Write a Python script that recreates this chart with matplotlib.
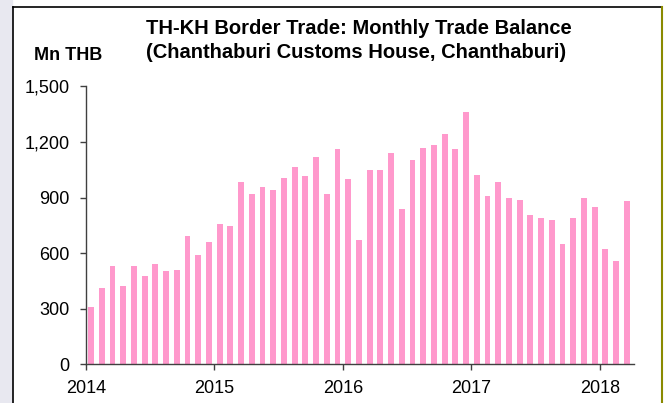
import matplotlib.pyplot as plt
from matplotlib.lines import Line2D
from matplotlib.patches import Rectangle

plt.rcParams["font.family"] = ["Liberation Sans", "DejaVu Sans"]

# monthly trade balance, Jan 2014 .. Mar 2018 (Mn THB)
balance_2014 = [311, 412, 529, 423, 529, 475, 541, 504, 511, 694, 588, 658]
balance_2015 = [757, 746, 986, 921, 957, 941, 1004, 1063, 1016, 1121, 921, 1162]
balance_2016 = [998, 669, 1050, 1050, 1139, 838, 1103, 1167, 1183, 1245, 1162, 1362]
balance_2017 = [1022, 908, 986, 897, 887, 804, 788, 781, 651, 788, 897, 851]
balance_2018 = [622, 558, 880]
years = ["2014", "2015", "2016", "2017", "2018"]

values = balance_2014 + balance_2015 + balance_2016 + balance_2017 + balance_2018
months = [i + 0.5 for i in range(len(values))]

fig = plt.figure(figsize=(6.69, 4.03), dpi=100)

# page backdrop + frame
fig.add_artist(Rectangle((0, 0), 12 / 669, 1, transform=fig.transFigure,
                         color="#e8e8f0", zorder=0))
fig.add_artist(Line2D([12.7 / 669, 12.7 / 669], [0, 1 - 7.3 / 403],
                      transform=fig.transFigure, color="black", lw=1.2))
fig.add_artist(Line2D([12.7 / 669, 662 / 669], [1 - 7.3 / 403, 1 - 7.3 / 403],
                      transform=fig.transFigure, color="black", lw=1.2))
fig.add_artist(Line2D([662 / 669, 662 / 669], [0, 1 - 7.3 / 403],
                      transform=fig.transFigure, color="#8a8a00", lw=1.5))

ax = fig.add_axes([85.7 / 669, 1 - 364.3 / 403, 548 / 669, 278 / 403])
ax.bar(months, values, width=0.55, color="#ff99cc", edgecolor="none")

ax.set_xlim(0, 51.15)
ax.set_ylim(0, 1500)
ax.set_yticks([0, 300, 600, 900, 1200, 1500])
ax.set_yticklabels(["0", "300", "600", "900", "1,200", "1,500"])
ax.set_xticks([0, 12, 24, 36, 48])
ax.set_xticklabels(years)

for s in ["top", "right"]:
    ax.spines[s].set_visible(False)
for s in ["left", "bottom"]:
    ax.spines[s].set_color("#404040")
    ax.spines[s].set_linewidth(1.0)
ax.tick_params(axis="y", direction="out", length=4.5, width=1, color="#404040",
               labelsize=13, pad=7)
ax.tick_params(axis="x", direction="out", length=4, width=1, color="#404040",
               labelsize=13, pad=7)

fig.text(359 / 669, 1 - 29 / 403, "TH-KH Border Trade: Monthly Trade Balance",
         ha="center", va="center", fontsize=14.5, fontweight="bold")
fig.text(356 / 669, 1 - 52 / 403, "(Chanthaburi Customs House, Chanthaburi)",
         ha="center", va="center", fontsize=14.5, fontweight="bold")
fig.text(68 / 669, 1 - 55.5 / 403, "Mn THB", ha="center", va="center",
         fontsize=13, fontweight="bold")

fig.savefig("out.png", dpi=100)
